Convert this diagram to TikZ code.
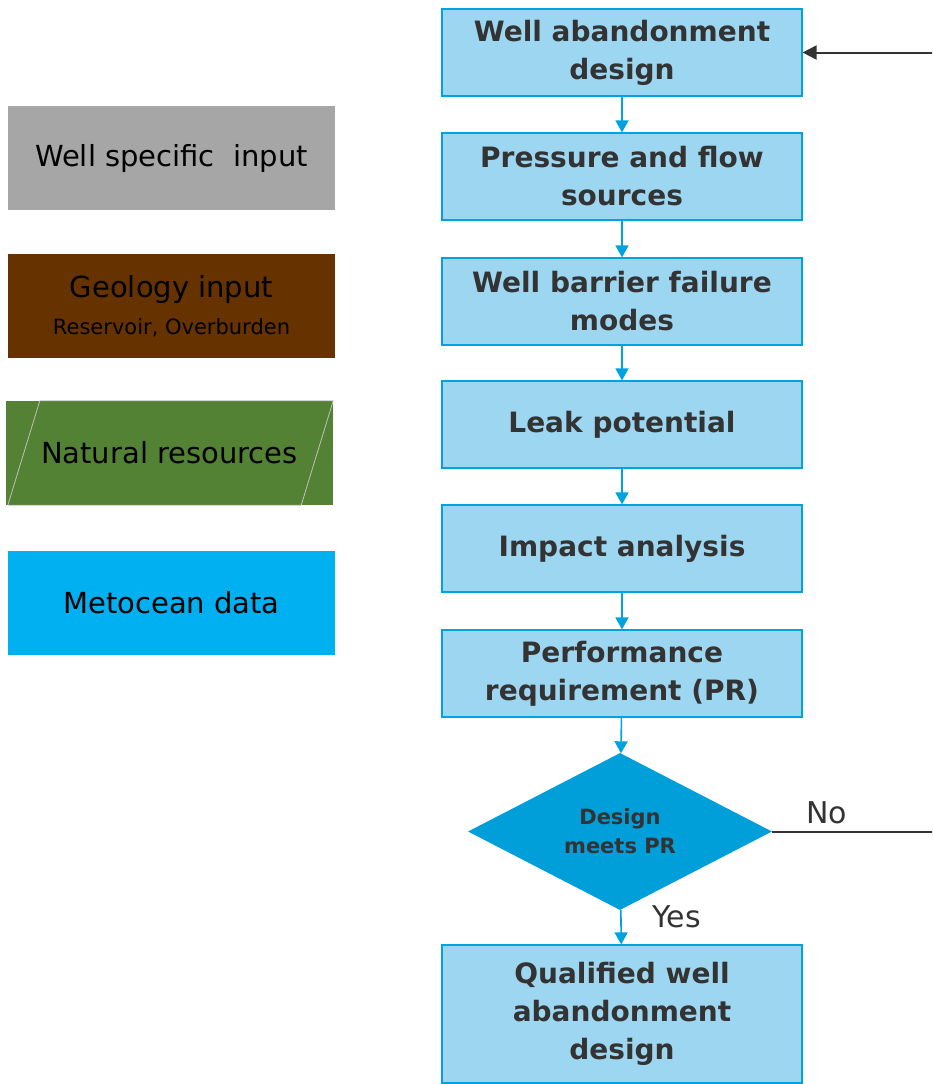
\documentclass[tikz,border=0pt]{standalone}
\usepackage{fontspec}
\setmainfont{DejaVu Sans}
\usetikzlibrary{arrows.meta,calc,positioning,shapes.geometric}
\definecolor{boxblue}{HTML}{9DD6F0}
\definecolor{edgeblue}{HTML}{00A3E0}
\definecolor{diamondblue}{HTML}{009FDA}
\definecolor{textgray}{HTML}{333333}
\definecolor{inputgray}{HTML}{A6A6A6}
\definecolor{geobrown}{HTML}{663300}
\definecolor{natgreen}{HTML}{548235}
\definecolor{metcyan}{HTML}{00B0F0}
\tikzset{
  stepbox/.style={draw=edgeblue,fill=boxblue,line width=1.2pt,minimum width=360pt,minimum height=87pt,inner sep=0pt,align=center,text=textgray,font=\bfseries\fontsize{28}{38}\selectfont},
  inputbox/.style={minimum width=327pt,minimum height=104pt,inner sep=0pt,align=center,text=black,font=\fontsize{29}{34}\selectfont},
  decision/.style={diamond,fill=diamondblue,minimum width=304pt,minimum height=153pt,inner sep=0pt,align=center,text=textgray,font=\bfseries\fontsize{21}{29}\selectfont},
  flowarrow/.style={-{Triangle[width=13pt,length=12pt]},edgeblue,line width=1.6pt},
  backarrow/.style={-{Triangle[width=14pt,length=14pt]},textgray,line width=2pt},
  answer/.style={text=textgray,font=\fontsize{30}{34}\selectfont,inner sep=2pt}
}
\begin{document}
\begin{tikzpicture}[x=1pt,y=-1pt]
\useasboundingbox (0,0) rectangle (932,1084);
\clip (0,0) rectangle (932,1084);
% input legend
\node[inputbox,fill=inputgray] (wellin) at (171.5,158) {Well specific\ \ input};
\node[inputbox,fill=geobrown] (geoin) at (171.5,306) {Geology input\\[3pt]{\fontsize{21}{24}\selectfont Reservoir, Overburden}};
\node[inputbox,fill=natgreen] (natin) at (169.5,453) {Natural resources};
\draw[gray!50,line width=0.8pt] ($(natin.north west)+(34,0)$) -- (natin.north east) -- ($(natin.south east)+(-32,0)$) -- ($(natin.south west)+(2,0)$) -- cycle;
\node[inputbox,fill=metcyan] (metin) at (171.5,603) {Metocean data};
% main flow
\node[stepbox] (design) at (622,52.5) {Well abandonment\\design};
\node[stepbox] (sources) at (622,176.5) {Pressure and flow\\sources};
\node[stepbox] (failure) at (622,301.5) {Well barrier failure\\modes};
\node[stepbox] (leak) at (622,424.5) {Leak potential};
\node[stepbox] (impact) at (622,548.5) {Impact analysis};
\node[stepbox] (perf) at (622,673.5) {Performance\\requirement (PR)};
\node[decision] (meets) at (620,831.5) {Design\\meets PR};
\node[stepbox,minimum height=138pt] (qualified) at (622,1014) {Qualified well\\abandonment\\design};
\coordinate (loop) at (960,0);
\foreach \a/\b in {design/sources,sources/failure,failure/leak,leak/impact,impact/perf,perf/meets,meets/qualified}
  \draw[flowarrow] (\a) -- (\b);
\node[answer,anchor=west] at (650,917) {Yes};
\draw[backarrow] (meets.east) -- node[answer,pos=0.29,anchor=south,fill=white,inner xsep=2pt,inner ysep=1pt,text depth=6pt]{No} (meets.east -| loop) |- (design.east);
\end{tikzpicture}
\end{document}
